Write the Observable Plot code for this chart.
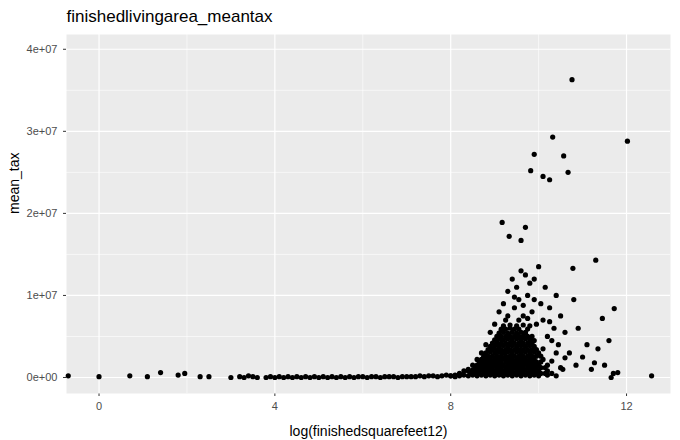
<!DOCTYPE html>
<html><head><meta charset="utf-8">
<script src="https://cdn.jsdelivr.net/npm/d3@7"></script>
<script src="https://cdn.jsdelivr.net/npm/@observablehq/plot@0.6"></script>
<style>body{margin:0;background:#fff;font-family:Arial,"Liberation Sans",sans-serif}</style>
</head><body><div id="c"></div>
<script>
const xTicks = [0, 4, 8, 12];
const yTicks = [0, 1e7, 2e7, 3e7, 4e7];
const yTickLabels = ["0e+00", "1e+07", "2e+07", "3e+07", "4e+07"];
const xMinor = [2, 6, 10];
const yMinor = [0.5e7, 1.5e7, 2.5e7, 3.5e7];
// [log area, mean tax]
const lowTail = [[-0.7,2e5],[0,1e5],[0.7,2e5],[1.1,1e5],[1.4,6e5],[1.8,3e5],[1.95,5e5],[2.3,1e5],[2.5,1e5],[3.0,0],[3.2,1e5],[3.3,0],[3.4,2e5],[3.5,1e5],[3.6,0],[3.8,0],[3.9,1e5]];
const band = [[4.0,0],[4.1,1e5],[4.2,0],[4.3,1e5],[4.4,0],[4.5,1e5],[4.6,0],[4.7,1e5],[4.8,0],[4.9,1e5],[5.0,0],[5.1,1e5],[5.2,0],[5.3,1e5],[5.4,0],[5.5,1e5],[5.6,0],[5.7,1e5],[5.8,0],[5.9,1e5],[6.0,1e5],[6.1,0],[6.2,1e5],[6.3,1e5],[6.4,0],[6.5,1e5],[6.6,1e5],[6.7,1e5],[6.8,0],[6.9,1e5],[7.0,1e5],[7.1,1e5],[7.2,1e5],[7.3,2e5],[7.4,1e5],[7.5,2e5],[7.6,2e5],[7.7,1e5],[7.8,2e5],[7.9,3e5],[8.0,2e5]];
const cloud = [
[8.1,3e5],[8.2,5e5],[8.3,8e5],[8.4,1.0e6],[8.5,1.5e6],[8.55,6e5],[8.6,2.2e6],[8.65,1.2e6],[8.7,3.0e6],[8.75,1.8e6],[8.8,4.0e6],[8.85,2.5e6],[8.9,5.5e6],[8.9,8e5],[8.95,3.5e6],[9.0,6.5e6],[9.0,1.5e6],[9.05,4.5e6],[9.1,8.0e6],[9.1,2.5e6],[9.15,5.8e6],[9.2,9.0e6],[9.2,3.2e6],[9.25,7.0e6],[9.3,10.5e6],[9.3,4.0e6],[9.35,6.0e6],[9.4,12.0e6],[9.4,2.0e6],[9.45,8.5e6],[9.5,11.0e6],[9.5,5.0e6],[9.55,9.5e6],[9.6,13.0e6],[9.6,3.0e6],[9.65,7.5e6],[9.7,12.5e6],[9.7,5.5e6],[9.75,10.0e6],[9.8,11.5e6],[9.8,2.5e6],[9.85,8.0e6],[9.9,12.0e6],[9.9,4.5e6],[9.95,6.5e6],[10.0,13.5e6],[10.0,1.5e6],[10.05,9.0e6],[10.1,7.0e6],[10.1,3.5e6],[10.15,11.0e6],[10.2,5.0e6],[10.25,8.5e6],[10.3,2.0e6],[10.35,6.0e6],[10.4,10.0e6],[10.45,4.0e6],[10.5,7.5e6],[10.55,1.0e6],[10.6,5.5e6],[10.7,3.0e6],[10.8,9.5e6],[10.85,1.5e6],[10.9,6.0e6],[11.0,2.5e6],[11.1,4.0e6],[11.2,1.0e6],[11.35,3.5e6],[11.5,1.5e6],[11.6,4.5e6],[11.7,5e5],
[8.0,2e5],[8.1,1e5],[8.2,2e5],[8.3,3e5],[8.4,2e5],[8.5,3e5],[8.6,2e5],[8.7,3e5],[8.8,2e5],[8.9,3e5],[9.0,2e5],[9.1,3e5],[9.2,2e5],[9.3,3e5],[9.4,2e5],[9.5,3e5],[9.6,2e5],[9.7,3e5],[9.8,2e5],[9.9,3e5],[10.0,2e5],[10.2,3e5],[10.4,2e5],
[8.4,8e5],[8.5,9e5],[8.6,8e5],[8.7,9e5],[8.8,8e5],[8.9,9e5],[9.0,8e5],[9.1,9e5],[9.2,8e5],[9.3,9e5],[9.4,8e5],[9.5,9e5],[9.6,8e5],[9.7,9e5],[9.8,8e5],[9.9,9e5],[10.0,8e5],[10.2,8e5],
[8.6,1.5e6],[8.7,1.6e6],[8.8,1.5e6],[8.9,1.6e6],[9.0,1.5e6],[9.1,1.6e6],[9.2,1.5e6],[9.3,1.6e6],[9.4,1.5e6],[9.5,1.6e6],[9.6,1.5e6],[9.7,1.6e6],[9.8,1.5e6],[9.9,1.6e6],[10.0,1.5e6],[10.2,1.5e6],
[8.7,2.2e6],[8.8,2.3e6],[8.9,2.2e6],[9.0,2.3e6],[9.1,2.2e6],[9.2,2.3e6],[9.3,2.2e6],[9.4,2.3e6],[9.5,2.2e6],[9.6,2.3e6],[9.7,2.2e6],[9.8,2.3e6],[9.9,2.2e6],[10.1,2.2e6],
[8.8,3.0e6],[8.9,3.1e6],[9.0,3.0e6],[9.1,3.1e6],[9.2,3.0e6],[9.3,3.1e6],[9.4,3.0e6],[9.5,3.1e6],[9.6,3.0e6],[9.7,3.1e6],[9.8,3.0e6],[9.9,3.1e6],[10.0,3.0e6],
[8.9,3.8e6],[9.0,3.9e6],[9.1,3.8e6],[9.2,3.9e6],[9.3,3.8e6],[9.4,3.9e6],[9.5,3.8e6],[9.6,3.9e6],[9.7,3.8e6],[9.8,3.9e6],[9.9,3.8e6],
[9.0,4.6e6],[9.1,4.7e6],[9.2,4.6e6],[9.3,4.7e6],[9.4,4.6e6],[9.5,4.7e6],[9.6,4.6e6],[9.7,4.7e6],[9.8,4.6e6],
[9.1,5.4e6],[9.2,5.5e6],[9.3,5.4e6],[9.4,5.5e6],[9.5,5.4e6],[9.6,5.5e6],[9.7,5.4e6],
[9.2,6.3e6],[9.35,6.4e6],[9.5,6.3e6],[9.65,6.4e6],[9.8,6.3e6]
];
const cloudFill = [
[8.45,5e5],[8.55,5e5],[8.65,5e5],[8.75,5e5],[8.85,5e5],[8.95,5e5],[9.05,5e5],[9.15,5e5],[9.25,5e5],[9.35,5e5],[9.45,5e5],[9.55,5e5],[9.65,5e5],[9.75,5e5],[9.85,5e5],[9.95,5e5],[10.05,5e5],[10.15,5e5],[10.3,5e5],
[8.55,1.2e6],[8.65,1.2e6],[8.75,1.2e6],[8.85,1.2e6],[8.95,1.2e6],[9.05,1.2e6],[9.15,1.2e6],[9.25,1.2e6],[9.35,1.2e6],[9.45,1.2e6],[9.55,1.2e6],[9.65,1.2e6],[9.75,1.2e6],[9.85,1.2e6],[9.95,1.2e6],[10.05,1.2e6],[10.15,1.2e6],
[8.65,1.9e6],[8.75,1.9e6],[8.85,1.9e6],[8.95,1.9e6],[9.05,1.9e6],[9.15,1.9e6],[9.25,1.9e6],[9.35,1.9e6],[9.45,1.9e6],[9.55,1.9e6],[9.65,1.9e6],[9.75,1.9e6],[9.85,1.9e6],[9.95,1.9e6],[10.05,1.9e6],
[8.75,2.6e6],[8.85,2.6e6],[8.95,2.6e6],[9.05,2.6e6],[9.15,2.6e6],[9.25,2.6e6],[9.35,2.6e6],[9.45,2.6e6],[9.55,2.6e6],[9.65,2.6e6],[9.75,2.6e6],[9.85,2.6e6],[9.95,2.6e6],[10.05,2.6e6],
[8.85,3.4e6],[8.95,3.4e6],[9.05,3.4e6],[9.15,3.4e6],[9.25,3.4e6],[9.35,3.4e6],[9.45,3.4e6],[9.55,3.4e6],[9.65,3.4e6],[9.75,3.4e6],[9.85,3.4e6],[9.95,3.4e6],
[8.95,4.2e6],[9.05,4.2e6],[9.15,4.2e6],[9.25,4.2e6],[9.35,4.2e6],[9.45,4.2e6],[9.55,4.2e6],[9.65,4.2e6],[9.75,4.2e6],[9.85,4.2e6],
[9.05,5.0e6],[9.15,5.0e6],[9.25,5.0e6],[9.35,5.0e6],[9.45,5.0e6],[9.55,5.0e6],[9.65,5.0e6],[9.75,5.0e6],[9.85,5.0e6],
[9.15,5.9e6],[9.25,5.9e6],[9.45,5.9e6],[9.55,5.9e6],[9.75,5.9e6],[9.3,7.5e6],[9.55,7.0e6],[9.75,7.2e6],[9.45,9.8e6],[9.65,8.8e6],[9.9,9.5e6],[10.25,6.8e6],[10.3,4.5e6],[10.4,3.0e6],[10.5,1.2e6],[10.6,2.4e6]
];
const outliers = [[10.32,2.93e7],[10.57,2.7e7],[12.02,2.88e7],[9.9,2.72e7],[9.82,2.52e7],[10.1,2.45e7],[10.25,2.41e7],[10.67,2.5e7],[10.76,3.63e7],[9.17,1.89e7],[9.6,1.67e7],[9.7,1.83e7],[11.3,1.43e7],[9.33,1.72e7],[11.72,8.4e6],[11.45,7.2e6],[10.78,1.33e7],[12.57,2e5],[11.65,0],[11.8,6e5],[11.27,1.8e6]];
const pts = [...lowTail, ...band, ...cloud, ...cloudFill, ...outliers].map(([x, y]) => ({x, y}));

const chart = Plot.plot({
  width: 680, height: 440,
  marginLeft: 66, marginRight: 10, marginTop: 34, marginBottom: 47,
  style: {fontFamily: "Arial, 'Liberation Sans', sans-serif", fontSize: "11px", color: "#4d4d4d"},
  x: {domain: [-0.74, 13.0], ticks: xTicks, tickSize: 3, label: null},
  y: {domain: [-1.95e6, 4.18e7], ticks: yTicks, tickFormat: (d, i) => yTickLabels[i], tickSize: 3, label: null},
  marks: [
    Plot.frame({fill: "#ebebeb", stroke: null}),
    Plot.ruleX(xMinor, {stroke: "#fff", strokeWidth: 0.6}),
    Plot.ruleY(yMinor, {stroke: "#fff", strokeWidth: 0.6}),
    Plot.ruleX(xTicks, {stroke: "#fff", strokeWidth: 1.2}),
    Plot.ruleY(yTicks, {stroke: "#fff", strokeWidth: 1.2}),
    Plot.dot(pts, {x: "x", y: "y", r: 2.6, fill: "#000", stroke: null}),
    Plot.text(["finishedlivingarea_meantax"], {frameAnchor: "top-left", dy: -25, textAnchor: "start", fontSize: 17, fill: "#000"}),
    Plot.text(["log(finishedsquarefeet12)"], {frameAnchor: "bottom", dy: 42, fontSize: 14, fill: "#000"}),
    Plot.text(["mean_tax"], {frameAnchor: "left", dx: -52, rotate: -90, fontSize: 14, fill: "#000"})
  ]
});
chart.querySelectorAll('[aria-label="x-axis tick"] path, [aria-label="y-axis tick"] path').forEach(p => p.setAttribute("stroke", "#333"));
document.getElementById("c").appendChild(chart);
</script></body></html>
